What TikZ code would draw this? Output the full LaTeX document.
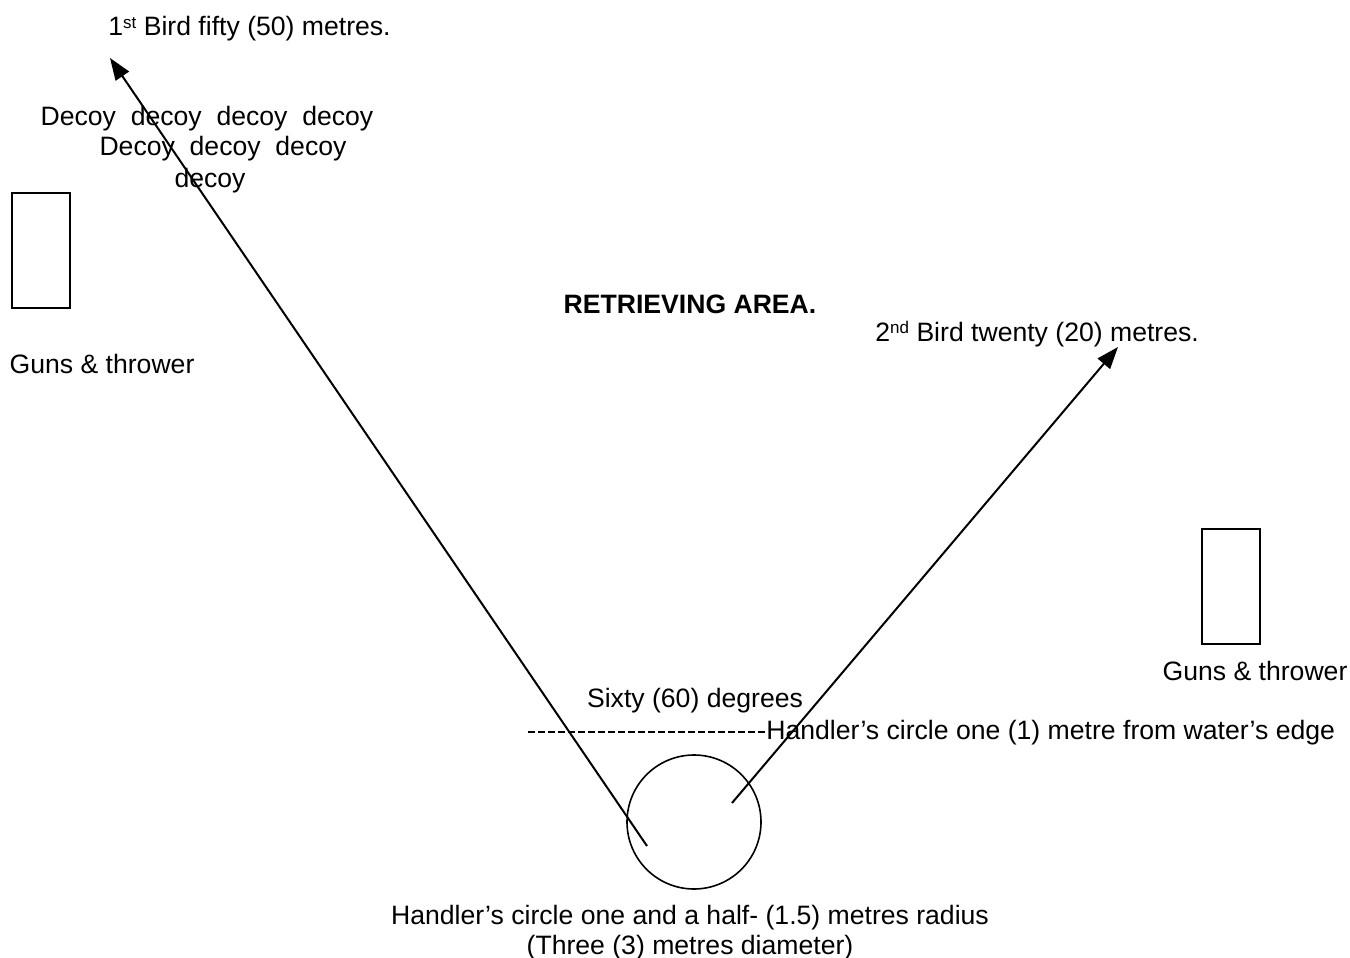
\documentclass[tikz,border=0pt]{standalone}
\usepackage{fontspec}
\setmainfont{Liberation Sans}
\usetikzlibrary{arrows.meta}

\newcommand{\supr}[1]{\raisebox{0.55ex}{\fontsize{8.5}{9}\selectfont #1}}

\tikzset{
    label/.style={inner sep=0pt, font=\fontsize{13.3}{15}\selectfont, align=center},
    path/.style={line width=1pt, -{Triangle[length=11pt, width=8pt]}},
    gunbox/.style={draw, line width=0.7pt, minimum width=29pt, minimum height=57.5pt, inner sep=0pt}
}

\begin{document}
\begin{tikzpicture}[x=0.5pt, y=-0.5pt]
    \useasboundingbox (0,0) rectangle (1350,958);

    % Guns & throwers
    \node[gunbox] (gunsL) at (41, 250.5) {};
    \node[label] (gunsLtxt) at (102, 364) {Guns \& thrower};
    \node[gunbox] (gunsR) at (1231, 586.5) {};
    \node[label] (gunsRtxt) at (1255, 671) {Guns \& thrower};

    % Decoys
    \node[label] (decoy1) at (207, 119) {Decoy\ \ decoy\ \ decoy\ \ decoy};
    \node[label] (decoy2) at (223, 149) {Decoy\ \ decoy\ \ decoy};
    \node[label] (decoy3) at (210, 181) {decoy};

    % Area title and bird labels
    \node[label, font=\fontsize{13.3}{15}\selectfont\bfseries] (area) at (690, 304) {RETRIEVING AREA.};
    \node[label, anchor=west] (bird1txt) at (108, 29) {1\supr{st} Bird fifty (50) metres.};
    \node[label, anchor=west] (bird2txt) at (875, 334) {2\supr{nd} Bird twenty (20) metres.};

    % Handler's circle
    \node[draw, circle, line width=0.8pt, minimum size=67pt, inner sep=0pt] (handler) at (694, 822) {};
    \node[label] (radius) at (690, 933) {Handler's circle one and a half- (1.5) metres radius\\(Three (3) metres diameter)};

    % Water's edge
    \node[label] (sixty) at (695, 701) {Sixty (60) degrees};
    \node[label, anchor=west] (edge) at (766, 733) {Handler's circle one (1) metre from water's edge};
    \coordinate (edgeL) at (528, 732);
    \draw[line width=0.7pt, dash pattern=on 3.5pt off 1.5pt] (edgeL) -- (edge.west |- edgeL);

    % Retrieve lines
    \coordinate (start1) at (647, 846);
    \coordinate (bird1) at (110, 58);
    \coordinate (start2) at (732, 803);
    \coordinate (bird2) at (1118, 347);
    \draw[path] (start1) -- (bird1);
    \draw[path] (start2) -- (bird2);
\end{tikzpicture}
\end{document}
